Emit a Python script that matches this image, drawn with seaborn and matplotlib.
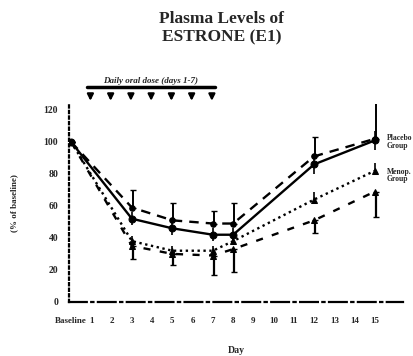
import numpy as np
import pandas as pd
import matplotlib
matplotlib.use("Agg")
import matplotlib.pyplot as plt
import seaborn as sns

# Study days (0 = baseline) and plasma estrone as % of baseline
days = [0, 3, 5, 7, 8, 12, 15]
tick_days = list(range(0, 16))
tick_labels = ["Baseline"] + [str(d) for d in range(1, 16)]
dose_days = [1, 2, 3, 4, 5, 6, 7]

group_a = [100, 52, 46, 42, 42, 86, 101]
group_b = [100, 59, 51, 49, 49, 91, 102]
group_c = [100, 38, 32, 32, 38, 64, 82]
group_d = [100, 35, 30, 29, 33, 51, 69]

# one-sided standard errors
err_a = [0, 4, 4, 4, 4, 6, 6]
err_b_up = [0, 11, 11, 8, 13, 12, 24]
err_c_up = [0, 3, 3, 3, 4, 5, 5]
err_d_down = [0, 8, 7, 12, 14, 8, 16]

series = [
    ("A", group_a, dict(linestyle="-", marker="o", markersize=5)),
    ("B", group_b, dict(linestyle=(0, (4, 3)), marker="o", markersize=4)),
    ("C", group_c, dict(linestyle=(0, (1, 1.5)), marker="^", markersize=4)),
    ("D", group_d, dict(linestyle=(0, (3, 4)), marker="^", markersize=4)),
]

sns.set_theme(style="white")
plt.rcParams["font.family"] = ["Liberation Serif", "DejaVu Serif"]

fig = plt.figure(figsize=(4.14, 3.56), dpi=100)
ax = fig.add_axes([0.167, 0.152, 0.807, 0.557])

for name, vals, style in series:
    df = pd.DataFrame({"day": days, "pct": vals})
    sns.lineplot(data=df, x="day", y="pct", ax=ax, color="black", linewidth=1.7,
                 markeredgecolor="black", errorbar=None, **style)

x = np.array(days)
ax.errorbar(x, group_a, yerr=[err_a, err_a], fmt="none", ecolor="black", elinewidth=1.2, capsize=0)
ax.errorbar(x + 0.05, group_b, yerr=[np.zeros(len(days)), err_b_up], fmt="none",
            ecolor="black", elinewidth=1.4, capsize=2)
ax.errorbar(x, group_c, yerr=[np.zeros(len(days)), err_c_up], fmt="none",
            ecolor="black", elinewidth=1.2, capsize=0)
ax.errorbar(x + 0.05, group_d, yerr=[err_d_down, np.zeros(len(days))], fmt="none",
            ecolor="black", elinewidth=1.6, capsize=2)

ax.set_xlim(-0.1, 16.4)
ax.set_ylim(0, 124)
ax.set_yticks([0, 20, 40, 60, 80, 100, 120])
ax.set_yticklabels([str(v) for v in [0, 20, 40, 60, 80, 100, 120]],
                   fontsize=7, fontweight="bold")
ax.set_xticks(tick_days)
ax.set_xticklabels(tick_labels, fontsize=6.5, fontweight="bold")
ax.tick_params(axis="x", length=0, pad=11)
ax.tick_params(axis="y", length=0, pad=8)

for side in ["top", "right"]:
    ax.spines[side].set_visible(False)
ax.spines["left"].set_linestyle((0, (1, 1.5)))
ax.spines["left"].set_linewidth(1.6)
ax.spines["left"].set_color("black")
ax.spines["bottom"].set_linestyle((0, (8, 2, 1, 2)))
ax.spines["bottom"].set_linewidth(1.6)
ax.spines["bottom"].set_color("black")

ax.set_xlabel("Day", fontsize=7, fontweight="bold", labelpad=15)
ax.set_ylabel("(% of baseline)", fontsize=6.5, fontweight="bold", labelpad=18)

# daily dosing markers
for d in dose_days:
    ax.annotate("", xy=(d - 0.05, 124), xytext=(d - 0.05, 131),
                arrowprops=dict(arrowstyle="-|>", color="black", lw=1.6,
                                mutation_scale=9), annotation_clip=False)
ax.plot([0.8, 7.1], [134.5, 134.5], color="black", lw=2.5, clip_on=False)
ax.text(3.9, 135.5, "Daily oral dose (days 1-7)", ha="center", va="bottom",
        fontsize=6.5, fontweight="bold", fontstyle="italic", clip_on=False)

# group labels at the right end
ax.text(15.6, 100, "Placebo\nGroup", fontsize=5.5, fontweight="bold",
        va="center", ha="left", linespacing=0.9, clip_on=False)
ax.text(15.6, 79, "Menop.\nGroup", fontsize=5.5, fontweight="bold",
        va="center", ha="left", linespacing=0.9, clip_on=False)

fig.text(0.535, 0.968, "Plasma Levels of\nESTRONE (E1)", ha="center", va="top",
         fontsize=12.5, fontweight="bold", linespacing=1.15)

fig.savefig("out.png", dpi=100, facecolor="white")
